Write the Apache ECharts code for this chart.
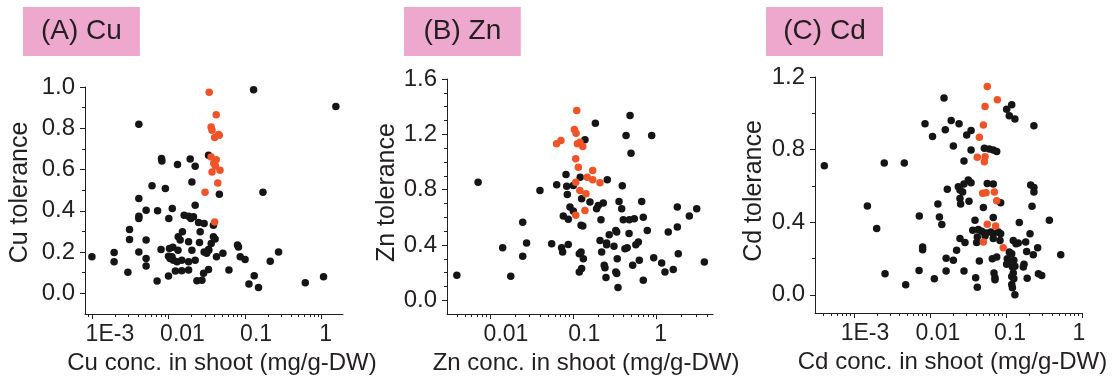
<!DOCTYPE html>
<html>
<head>
<meta charset="utf-8">
<script src="https://cdn.jsdelivr.net/npm/echarts@6/dist/echarts.min.js"></script>
<style>
html,body{margin:0;padding:0;background:#fff;}
#chart{width:1115px;height:380px;}
</style>
</head>
<body>
<div id="chart"></div>
<script>
// ---------- DATA (concentration mg/g-DW, tolerance) ----------
const cuBlack = [
[0.129,0.987],[1.53,0.906],[0.0041,0.819],[0.0081,0.653],[0.0082,0.641],[0.0131,0.624],[0.0192,0.651],[0.0223,0.616],[0.0202,0.54],[0.0061,0.521],[0.0091,0.508],[0.171,0.49],[0.0333,0.669],
[0.0461,0.48],[0.0041,0.46],[0.0223,0.427],[0.0112,0.411],[0.0051,0.403],[0.0072,0.4],[0.0041,0.374],[0.0041,0.363],[0.0101,0.363],[0.016,0.379],[0.0183,0.374],[0.0196,0.363],[0.0212,0.371],[0.0247,0.343],[0.0292,0.339],[0.0386,0.33],[0.0031,0.31],[0.0152,0.298],[0.0259,0.298],[0.0134,0.274],[0.0142,0.258],[0.0386,0.274],[0.0406,0.263],[0.0031,0.261],[0.0051,0.258],[0.0183,0.25],[0.0254,0.247],[0.0361,0.242],[0.0796,0.234],[0.082,0.225],[0.0333,0.213],[0.008,0.213],[0.0103,0.218],[0.0114,0.223],[0.0133,0.209],[0.0202,0.209],[0.00195,0.198],[0.0041,0.201],[0.0292,0.201],[0.0315,0.194],[0.0336,0.209],[0.0513,0.194],[0.2735,0.201],[0.001,0.177],[0.01,0.18],[0.0105,0.169],[0.0111,0.177],[0.0423,0.177],[0.0863,0.177],[0.1,0.164],[0.0051,0.169],[0.0116,0.161],[0.0129,0.153],[0.0149,0.161],[0.0223,0.161],[0.0183,0.153],[0.2128,0.156],[0.00195,0.153],[0.0051,0.132],[0.0333,0.116],[0.0615,0.113],[0.00295,0.102],[0.0123,0.108],[0.0149,0.109],[0.0183,0.113],[0.0287,0.097],[0.01,0.084],[0.1315,0.085],[1.057,0.08],[0.0071,0.06],[0.0235,0.061],[0.0273,0.064],[0.1122,0.045],[0.61,0.051],[0.1496,0.029]
];
const cuRed = [
[0.034,0.975],[0.042,0.866],[0.036,0.806],[0.037,0.79],[0.045,0.77],[0.046,0.766],[0.040,0.755],[0.036,0.661],[0.042,0.648],[0.039,0.629],[0.041,0.617],[0.047,0.597],[0.037,0.588],[0.044,0.535],[0.030,0.49],[0.040,0.346]
];
const znBlack = [
[0.0072,0.854],[0.184,1.28],[0.48,1.336],[0.43,1.191],[0.873,1.191],[0.493,1.064],[0.138,1.16],[0.0817,0.91],[0.121,0.89],[0.256,0.871],[0.0632,0.835],[0.0834,0.825],[0.1,0.83],[0.3875,0.828],[0.0398,0.794],[0.0848,0.765],[0.126,0.734],[0.1585,0.71],[0.229,0.703],[0.1995,0.686],[0.1905,0.662],[0.354,0.715],[0.662,0.715],[0.381,0.662],[0.0912,0.674],[0.1,0.645],[0.0759,0.609],[0.0871,0.585],[0.215,0.583],[0.398,0.583],[0.47,0.583],[0.54,0.59],[0.692,0.601],[1.774,0.674],[2.47,0.609],[3.03,0.662],[0.124,0.542],[0.13,0.537],[0.0247,0.565],[0.773,0.505],[0.3236,0.505],[0.332,0.493],[0.27,0.474],[0.467,0.482],[1.38,0.493],[1.774,0.529],[0.2094,0.433],[0.251,0.414],[0.251,0.402],[0.055,0.409],[0.0275,0.414],[0.0142,0.38],[0.0724,0.38],[0.0745,0.349],[0.087,0.404],[0.308,0.39],[0.417,0.373],[0.443,0.38],[0.563,0.402],[0.604,0.421],[0.219,0.349],[0.118,0.337],[0.124,0.349],[1.82,0.337],[0.132,0.301],[0.337,0.301],[0.62,0.289],[0.923,0.308],[1.15,0.269],[3.74,0.277],[0.0247,0.318],[0.235,0.253],[0.24,0.236],[0.516,0.253],[0.126,0.229],[0.118,0.204],[0.3236,0.204],[0.332,0.193],[1.26,0.204],[1.585,0.222],[0.004,0.181],[0.01775,0.173],[0.247,0.164],[0.692,0.144],[0.344,0.092]
];
const znRed = [
[0.110,1.372],[0.103,1.235],[0.108,1.208],[0.063,1.131],[0.071,1.155],[0.112,1.131],[0.120,1.143],[0.130,1.112],[0.107,1.023],[0.115,0.962],[0.171,0.939],[0.147,0.89],[0.171,0.871],[0.209,0.85],[0.107,0.854],[0.120,0.794],[0.142,0.77],[0.138,0.65],[0.107,0.614]
];
const cdBlack = [
[0.0153,1.084],[0.119,1.047],[0.102,1.023],[0.1105,0.986],[0.131,0.968],[0.0086,0.942],[0.019,0.96],[0.0241,0.942],[0.0159,0.909],[0.0347,0.905],[0.0304,0.881],[0.233,0.931],[0.0108,0.872],[0.0203,0.82],[0.0347,0.798],[0.0519,0.808],[0.0603,0.804],[0.068,0.798],[0.0755,0.789],[0.028,0.737],[0.000407,0.711],[0.0025,0.726],[0.00459,0.726],[0.0319,0.632],[0.0347,0.617],[0.028,0.61],[0.0236,0.595],[0.0169,0.581],[0.0567,0.614],[0.068,0.61],[0.2113,0.605],[0.233,0.592],[0.0248,0.577],[0.0269,0.567],[0.233,0.567],[0.0127,0.5],[0.0248,0.531],[0.0253,0.5],[0.0326,0.516],[0.0504,0.481],[0.0851,0.507],[0.22,0.488],[0.0015,0.49],[0.00723,0.435],[0.0133,0.429],[0.0143,0.387],[0.0391,0.411],[0.068,0.426],[0.1496,0.398],[0.372,0.411],[0.00199,0.365],[0.0365,0.356],[0.0432,0.36],[0.0479,0.35],[0.0546,0.341],[0.0631,0.346],[0.068,0.337],[0.0794,0.346],[0.0851,0.337],[0.207,0.337],[0.0419,0.319],[0.053,0.324],[0.068,0.31],[0.0834,0.3],[0.0248,0.31],[0.0289,0.288],[0.0411,0.288],[0.1247,0.3],[0.145,0.285],[0.1355,0.282],[0.1816,0.291],[0.008,0.263],[0.008,0.249],[0.261,0.26],[0.0224,0.245],[0.1105,0.236],[0.119,0.227],[0.187,0.239],[0.2285,0.221],[0.525,0.221],[0.066,0.199],[0.0755,0.208],[0.104,0.199],[0.107,0.18],[0.102,0.168],[0.0163,0.202],[0.0203,0.19],[0.0446,0.186],[0.1268,0.19],[0.1214,0.153],[0.131,0.157],[0.1726,0.168],[0.169,0.153],[0.00718,0.134],[0.0163,0.131],[0.028,0.131],[0.0695,0.12],[0.0716,0.094],[0.0716,0.083],[0.00256,0.116],[0.1247,0.12],[0.119,0.101],[0.1268,0.088],[0.267,0.116],[0.295,0.107],[0.19,0.092],[0.0399,0.094],[0.0114,0.088],[0.119,0.057],[0.1214,0.039],[0.00479,0.055],[0.0419,0.042],[0.131,0.0]
];
const cdRed = [
[0.0567,1.148],[0.0769,1.075],[0.053,1.038],[0.0504,0.936],[0.0446,0.868],[0.0419,0.758],[0.053,0.761],[0.0519,0.733],[0.0493,0.559],[0.0546,0.562],[0.0703,0.567],[0.0755,0.518],[0.0567,0.389],[0.0731,0.379],[0.0504,0.291],[0.092,0.26]
];

// text and tick labels
const titles = ['(A) Cu', '(B) Zn', '(C) Cd'];
const xNames = ['Cu conc. in shoot (mg/g-DW)', 'Zn conc. in shoot (mg/g-DW)', 'Cd conc. in shoot (mg/g-DW)'];
const yNames = ['Cu tolerance', 'Zn tolerance', 'Cd tolerance'];
const xTickValsA = [0.001, 0.01, 0.1, 1];
const xTickValsB = [0.01, 0.1, 1];
const xTickValsC = [0.001, 0.01, 0.1, 1];
const xTickText = {'-3': '1E-3', '-2': '0.01', '-1': '0.1', '0': '1'};
const yTicksA = [0.0, 0.2, 0.4, 0.6, 0.8, 1.0];
const yTicksB = [0.0, 0.4, 0.8, 1.2, 1.6];
const yTicksC = [0.0, 0.4, 0.8, 1.2];
const yMinorA = [0.1, 0.3, 0.5, 0.7, 0.9];
const yMinorB = [0.1, 0.2, 0.3, 0.5, 0.6, 0.7, 0.9, 1.0, 1.1, 1.3, 1.4, 1.5];
const yMinorC = [0.2, 0.6, 1.0];

// ---------- LAYOUT ----------
const FONT = '"Liberation Sans", Arial, sans-serif';
const INK = '#231f20';
const panels = [
  {black: cuBlack, red: cuRed, grid: {left: 85, top: 87, width: 258, height: 227}, xr: [-3.09, 0.278], yr: [-0.1, 1.0],
   xt: xTickValsA, labOff: [18, 14, 11, 4], yt: yTicksA, ym: yMinorA, titleLeft: 23, titlePad: 18, nameGapY: 52, nameOffX: 8, nameOffY: 8},
  {black: znBlack, red: znRed, grid: {left: 447, top: 79, width: 266, height: 236}, xr: [-2.516, 0.677], yr: [-0.1, 1.6],
   xt: xTickValsB, labOff: [16, 11, 4], yt: yTicksB, ym: yMinorB, titleLeft: 404, titlePad: 19.5, nameGapY: 29, nameOffX: 6, nameOffY: 4},
  {black: cdBlack, red: cdRed, grid: {left: 815, top: 77, width: 267, height: 236}, xr: [-3.513, 0.0], yr: [-0.1, 1.2],
   xt: xTickValsC, labOff: [11, 8, 4, -3], yt: yTicksC, ym: yMinorC, titleLeft: 766, titlePad: 17.3, nameGapY: 48, nameOffX: 4, nameOffY: 4}
];

function minorLogs(r) {
  const out = [];
  for (let d = Math.floor(r[0]); d <= Math.ceil(r[1]); d++) {
    for (let k = 2; k <= 9; k++) {
      const v = d + Math.log10(k);
      if (v >= r[0] && v <= r[1]) out.push(v);
    }
  }
  return out;
}

const option = {
  animation: false,
  backgroundColor: '#fff',
  title: [], grid: [], xAxis: [], yAxis: [], series: []
};

panels.forEach((p, i) => {
  option.title.push({
    text: titles[i], left: p.titleLeft, top: 7,
    backgroundColor: '#EEA8CD',
    padding: [10, p.titlePad, 11, p.titlePad],
    textStyle: {fontSize: 28, fontWeight: 'normal', color: INK, fontFamily: FONT}
  });
  option.grid.push(Object.assign({containLabel: false}, p.grid));
  const majors = p.xt.map(v => Math.log10(v));
  const rich = {};
  p.labOff.forEach((d, k) => {
    rich['o' + k] = {fontSize: 23, fontFamily: FONT, color: INK,
      padding: d >= 0 ? [0, 0, 0, 2 * d] : [0, -2 * d, 0, 0]};
  });
  const lineStyle = {color: INK, width: 1};
  option.xAxis.push({
    type: 'value', gridIndex: i, position: 'bottom', min: p.xr[0], max: p.xr[1],
    axisLine: {show: true, onZero: false, lineStyle},
    axisTick: {show: true, inside: false, length: 5, customValues: majors, lineStyle},
    axisLabel: {show: true, customValues: majors, margin: 9, fontSize: 23, fontFamily: FONT, color: INK,
      formatter: v => { const k = majors.findIndex(m => Math.abs(m - v) < 1e-6); return '{o' + k + '|' + xTickText[String(Math.round(v))] + '}'; },
      rich},
    splitLine: {show: false},
    name: xNames[i], nameLocation: 'middle', nameGap: 36,
    nameTextStyle: {fontSize: 24, fontFamily: FONT, color: INK, padding: [0, 0, 0, 2 * p.nameOffX]}
  });
  option.xAxis.push({
    type: 'value', gridIndex: i, position: 'bottom', min: p.xr[0], max: p.xr[1],
    axisLine: {show: false, onZero: false},
    axisTick: {show: true, inside: false, length: 3, customValues: minorLogs(p.xr), lineStyle},
    axisLabel: {show: false}, splitLine: {show: false}
  });
  option.yAxis.push({
    type: 'value', gridIndex: i, position: 'left', min: p.yr[0], max: p.yr[1],
    axisLine: {show: true, onZero: false, lineStyle},
    axisTick: {show: true, inside: false, length: 5, customValues: p.yt, lineStyle},
    axisLabel: {show: true, customValues: p.yt, margin: 10, fontSize: 24, fontFamily: FONT, color: INK,
      formatter: v => v.toFixed(1)},
    splitLine: {show: false},
    name: yNames[i], nameLocation: 'middle', nameGap: p.nameGapY,
    nameTextStyle: {fontSize: 25, fontFamily: FONT, color: INK, padding: [0, 0, 0, 2 * p.nameOffY]}
  });
  option.yAxis.push({
    type: 'value', gridIndex: i, position: 'left', min: p.yr[0], max: p.yr[1],
    axisLine: {show: false, onZero: false},
    axisTick: {show: true, inside: false, length: 3, customValues: p.ym, lineStyle},
    axisLabel: {show: false}, splitLine: {show: false}
  });
  option.series.push({
    type: 'scatter', xAxisIndex: 2 * i, yAxisIndex: 2 * i, symbolSize: 7.5,
    itemStyle: {color: '#151515', opacity: 1},
    data: p.black.map(d => [Math.log10(d[0]), d[1]])
  });
  option.series.push({
    type: 'scatter', xAxisIndex: 2 * i, yAxisIndex: 2 * i, symbolSize: 7.5,
    itemStyle: {color: '#EF5429', opacity: 1},
    data: p.red.map(d => [Math.log10(d[0]), d[1]])
  });
});

const chart = echarts.init(document.getElementById('chart'), null, {renderer: 'canvas'});
chart.setOption(option);
</script>
</body>
</html>
